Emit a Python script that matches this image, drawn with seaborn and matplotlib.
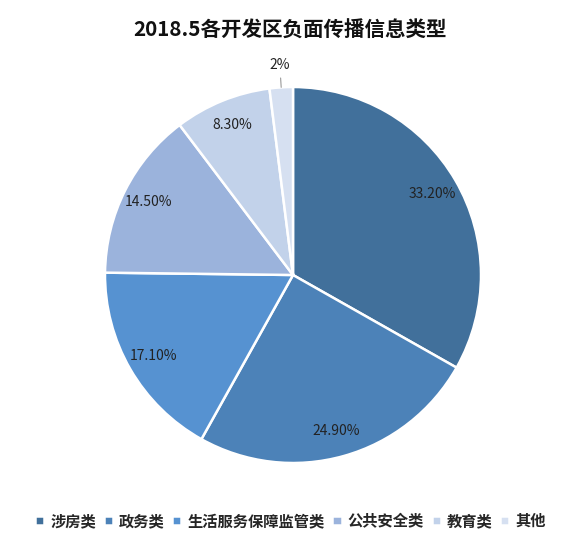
import matplotlib
matplotlib.use("Agg")
import matplotlib.pyplot as plt
import numpy as np
import seaborn as sns

categories = ["涉房类", "政务类", "生活服务保障监管类", "公共安全类", "教育类", "其他"]
values = [33.2, 24.9, 17.1, 14.5, 8.3, 2.0]
value_labels = ["33.20%", "24.90%", "17.10%", "14.50%", "8.30%", "2%"]
colors = ["#41709b", "#4c82b8", "#5692d1", "#9bb3dc", "#c2d2ea", "#d6e0f1"]
title = "2018.5各开发区负面传播信息类型"

sns.set_style("white")
plt.rcParams["font.family"] = ["Noto Sans CJK SC", "DejaVu Sans"]

fig = plt.figure(figsize=(5.81, 5.46), dpi=100)
ax = fig.add_axes([105 / 581, 83 / 546, 376 / 581, 376 / 546])

wedges, _ = ax.pie(values, colors=colors, startangle=90, counterclock=False,
                   wedgeprops=dict(edgecolor="white", linewidth=1.8))
ax.set_aspect("equal")
ax.set_xlim(-1, 1)
ax.set_ylim(-1, 1)

# percentage labels inside the slices, the tiny one outside with a leader line
for w, lab in zip(wedges, value_labels):
    ang = np.deg2rad((w.theta1 + w.theta2) / 2)
    x, y = np.cos(ang), np.sin(ang)
    if lab == "2%":
        ax.plot([x * 1.0, x * 1.05], [y * 1.0, y * 1.05], color="#999999", lw=0.8, clip_on=False)
        ax.text(x * 1.12, y * 1.12, lab, ha="center", va="center", fontsize=10, color="#222222")
    else:
        ax.text(x * 0.86, y * 0.86, lab, ha="center", va="center", fontsize=10, color="#222222")

fig.text(0.5, 1 - 30 / 546, title, ha="center", va="center", fontsize=14.8,
         fontweight="bold", color="#111111")

fig.legend(wedges, categories, loc="center", bbox_to_anchor=(0.5, 1 - 521 / 546), ncol=6,
           frameon=False, prop=dict(size=11, weight="bold"), handlelength=0.6, handleheight=0.6,
           handletextpad=0.4, columnspacing=0.5, borderaxespad=0)

fig.savefig("out.png", dpi=100, facecolor="white")
